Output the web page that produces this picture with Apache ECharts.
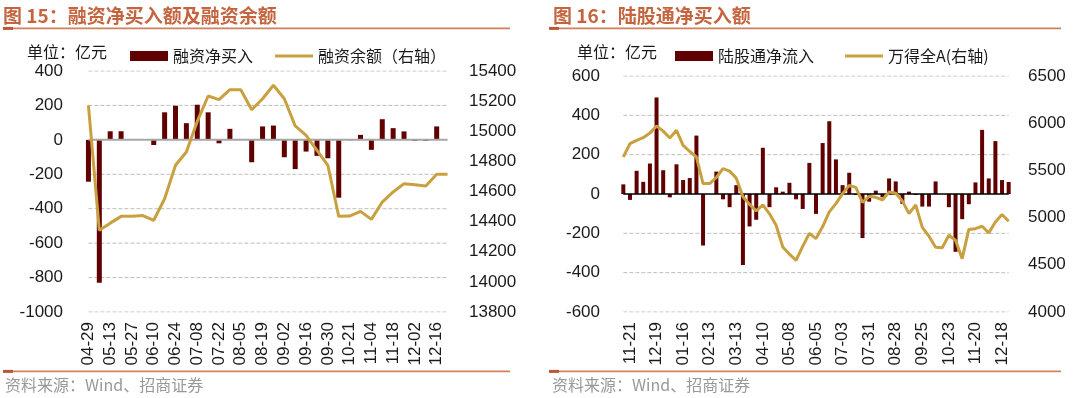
<!DOCTYPE html>
<html>
<head>
<meta charset="utf-8">
<script src="https://cdn.jsdelivr.net/npm/echarts@6/dist/echarts.min.js"></script>
<style>
html, body { margin: 0; padding: 0; background: #fff; }
#main { width: 1080px; height: 398px; }
</style>
</head>
<body>
<div id="main"></div>
<script>
// 图15 融资 周度数据
var finDates = ['04-29','05-06','05-13','05-20','05-27','06-03','06-10','06-17','06-24','07-01','07-08','07-15','07-22','07-29','08-05','08-12','08-19','08-26','09-02','09-09','09-16','09-23','09-30','10-14','10-21','10-28','11-04','11-11','11-18','11-25','12-02','12-09','12-16','12-23'];
var finNetBuy = [-243,-830,50,50,0,0,-30,160,198,97,204,160,-20,64,0,-130,78,83,-101,-170,-68,-93,-107,-336,-2,29,-58,120,68,49,-6,-6,78,0];
var finBalance = [15172,14342,14390,14435,14435,14440,14409,14552,14774,14862,15065,15234,15210,15276,15276,15143,15216,15305,15216,15035,14973,14873,14774,14435,14437,14468,14415,14530,14597,14652,14645,14637,14714,14714];
var finTicks = [-1000,-800,-600,-400,-200,200,400];

// 图16 陆股通 周度数据
var hkDates = ['11-14','11-21','11-28','12-05','12-12','12-19','12-26',
    '01-02','01-09','01-16','01-23','01-30','02-06','02-13','02-20','02-27','03-06','03-13','03-20','03-27',
    '04-03','04-10','04-17','04-24','05-01','05-08','05-15','05-22','05-29','06-05','06-12','06-19','06-26',
    '07-03','07-10','07-17','07-24','07-31','08-07','08-14','08-21','08-28','09-04','09-11','09-18','09-25',
    '10-02','10-09','10-16','10-23','10-30','11-06','11-13','11-20','11-27','12-04','12-11','12-18','12-25'];
var hkNetFlow = [49,-30,118,62,155,491,121,-17,151,71,81,297,-262,0,114,-27,-67,45,-361,-165,-131,235,-67,34,12,57,-27,-76,158,-101,259,370,176,45,108,-5,-224,-39,17,-17,79,64,-50,12,-5,-64,-64,64,0,-67,-294,-128,-52,59,326,79,269,71,61];
var windA = [5642,5784,5819,5847,5895,5971,5916,5844,5925,5766,5700,5642,5360,5360,5425,5519,5492,5418,5220,5140,5072,5134,5040,4918,4689,4612,4548,4695,4833,4777,4905,5060,5148,5254,5342,5320,5162,5225,5215,5187,5272,5258,5175,5042,5135,4897,4803,4685,4680,4813,4760,4565,4875,4883,4908,4838,4953,5033,4962];
var hkTicks = [-600,-400,-200,200,400,600];

var BAR_COLOR = '#600000';
var LINE_COLOR = '#C9A03F';
var TITLE_COLOR = '#C5653F';
var RULE_COLOR = '#D0805C';
var GRID_COLOR = '#bdbdbd';
var FONT_NUM = '"Liberation Sans", Arial, sans-serif';
var FONT_CN = '"Noto Sans CJK SC", sans-serif';

var chart = echarts.init(document.getElementById('main'));

function xAxisOf(grid, data, interval) {
    return {
        gridIndex: grid,
        type: 'category',
        data: data,
        axisLine: {show: false},
        axisTick: {show: false},
        splitLine: {show: false},
        axisLabel: {rotate: 90, interval: interval, fontSize: 17, color: '#1a1a1a', fontFamily: FONT_NUM, margin: 10}
    };
}

function yAxisOf(grid, pos, min, max, step) {
    return {
        gridIndex: grid,
        type: 'value',
        position: pos,
        min: min,
        max: max,
        interval: step,
        axisLine: {show: false},
        axisTick: {show: false},
        splitLine: {show: false},
        axisLabel: {
            fontSize: 17, color: '#1a1a1a', fontFamily: FONT_NUM,
            margin: pos === 'left' ? 20 : 16,
            formatter: function (v) { return String(v); }
        }
    };
}

// 水平参考线: 每个刻度值一条平线 (line series)
function flatLine(idx, value, count, color, width, type, z) {
    var data = [];
    for (var i = 0; i < count; i++) data.push(value);
    return {
        type: 'line',
        xAxisIndex: idx,
        yAxisIndex: idx * 2,
        data: data,
        z: z,
        silent: true,
        symbol: 'none',
        lineStyle: {color: color, width: width, type: type},
        emphasis: {disabled: true},
        tooltip: {show: false}
    };
}

function gridLines(idx, ticks, count) {
    var list = [];
    for (var i = 0; i < ticks.length; i++) {
        list.push(flatLine(idx, ticks[i], count, GRID_COLOR, 1, 'dashed', 1));
    }
    return list;
}

function legendOf(name, left, h) {
    return {
        data: [{name: name, icon: 'rect'}],
        left: left,
        top: 43,
        itemWidth: 38,
        itemHeight: h,
        textStyle: {fontSize: 16, fontFamily: FONT_CN, color: '#1a1a1a'}
    };
}

function txt(x, y, s, font, fill) {
    return {type: 'text', x: x, y: y, style: {text: s, font: font, fill: fill, textVerticalAlign: 'middle', verticalAlign: 'middle'}};
}

function rule(x, y, w) {
    return [
        {type: 'rect', shape: {x: x, y: y, width: w, height: 1.8}, style: {fill: RULE_COLOR}},
        {type: 'rect', shape: {x: x, y: y - 0.6, width: 10, height: 3}, style: {fill: '#B85A3A'}}
    ];
}

var series = [
    {
        name: '融资净买入', type: 'bar', xAxisIndex: 0, yAxisIndex: 0, z: 2,
        data: finNetBuy, barWidth: 5, itemStyle: {color: BAR_COLOR}
    },
    flatLine(0, 0, finDates.length, '#a6a6a6', 2, 'solid', 3),
    {
        name: '融资余额（右轴）', type: 'line', xAxisIndex: 0, yAxisIndex: 1, z: 4,
        data: finBalance, symbol: 'none', itemStyle: {color: LINE_COLOR},
        lineStyle: {color: LINE_COLOR, width: 3}
    },
    {
        name: '陆股通净流入', type: 'bar', xAxisIndex: 1, yAxisIndex: 2, z: 2,
        data: hkNetFlow, barWidth: 4, itemStyle: {color: BAR_COLOR}
    },
    flatLine(1, 0, hkDates.length, '#000000', 1.5, 'solid', 3),
    {
        name: '万得全A(右轴)', type: 'line', xAxisIndex: 1, yAxisIndex: 3, z: 4,
        data: windA, symbol: 'none', itemStyle: {color: LINE_COLOR},
        lineStyle: {color: LINE_COLOR, width: 3}
    }
].concat(gridLines(0, finTicks, finDates.length), gridLines(1, hkTicks, hkDates.length));

var option = {
    animation: false,
    graphic: [
        txt(3, 16, '图 15：融资净买入额及融资余额', 'bold 19px ' + FONT_CN, TITLE_COLOR),
        txt(553, 16, '图 16：陆股通净买入额', 'bold 19px ' + FONT_CN, TITLE_COLOR),
        txt(27, 52, '单位：亿元', '16px ' + FONT_CN, '#1a1a1a'),
        txt(577, 52, '单位：亿元', '16px ' + FONT_CN, '#1a1a1a'),
        txt(5, 385, '资料来源：Wind、招商证券', '16px ' + FONT_CN, '#999999'),
        txt(552, 385, '资料来源：Wind、招商证券', '16px ' + FONT_CN, '#999999')
    ].concat(rule(3, 27.5, 507), rule(549, 27.5, 512), rule(3, 370.5, 507), rule(549, 370.5, 512)),
    legend: [
        legendOf('融资净买入', 125, 10),
        legendOf('融资余额（右轴）', 270, 3),
        legendOf('陆股通净流入', 670, 10),
        legendOf('万得全A(右轴)', 840, 3)
    ],
    grid: [
        {left: 83, top: 71, width: 370, height: 241},
        {left: 620, top: 76, width: 392, height: 236}
    ],
    xAxis: [
        xAxisOf(0, finDates, 1),
        xAxisOf(1, hkDates, function (i) { return i % 4 === 1; })
    ],
    yAxis: [
        yAxisOf(0, 'left', -1000, 400, 200),
        yAxisOf(0, 'right', 13800, 15400, 200),
        yAxisOf(1, 'left', -600, 600, 200),
        yAxisOf(1, 'right', 4000, 6500, 500)
    ],
    series: series
};

chart.setOption(option);
</script>
</body>
</html>
